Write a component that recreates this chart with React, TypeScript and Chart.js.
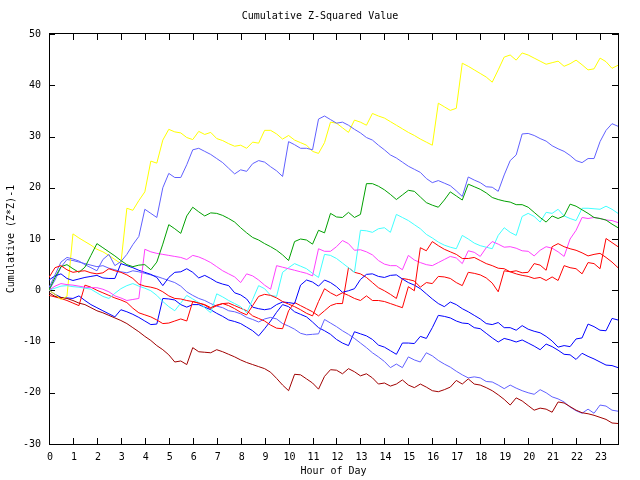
import { useEffect, useRef } from "react";
import { Chart, registerables } from "chart.js";

Chart.register(...registerables);

const TITLE = "Cumulative Z-Squared Value";
const X_TITLE = "Hour of Day";
const Y_TITLE = "Cumulative (Z*Z)-1";
const X_TICKS = [0, 1, 2, 3, 4, 5, 6, 7, 8, 9, 10, 11, 12, 13, 14, 15, 16, 17, 18, 19, 20, 21, 22, 23];
const Y_TICKS = [-30, -20, -10, 0, 10, 20, 30, 40, 50];
// 15-minute steps, 0:00 .. 23:45
const HOURS = Array.from({ length: 96 }, (_, i) => i / 4);

const yellow = [
  0, -0.8, -1.8, -1.2, 11.0, 10.2, 9.5, 8.8, 8.0, 7.5, 6.8, 6.0, 5.2, 16.0, 15.6, 17.5,
  19.2, 25.2, 24.8, 29.3, 31.4, 30.9, 30.7, 29.8, 29.4, 31.0, 30.4, 30.8, 29.6, 29.2, 28.6, 28.1,
  28.3, 27.7, 28.9, 28.7, 31.2, 31.2, 30.5, 29.5, 30.2, 29.3, 28.8, 28.3, 27.1, 26.7, 28.8, 32.8,
  32.6, 31.7, 30.8, 33.2, 32.8, 32.2, 34.5, 34.0, 33.6, 32.9, 32.2, 31.5, 30.8, 30.2, 29.5, 28.9,
  28.3, 36.5, 35.8, 35.1, 35.5, 44.3, 43.7, 43.0, 42.3, 41.6, 40.6, 43.0, 45.5, 45.9, 44.9, 46.3,
  45.9, 45.3, 44.7, 44.1, 44.4, 44.7, 43.7, 44.2, 44.9, 44.0, 43.0, 43.2, 45.3, 44.6, 43.3, 43.9,
];
const lightBlueA = [
  0.5, 3.0, 5.5, 6.4, 6.1, 5.7, 5.0, 4.4, 3.8, 6.0, 7.0, 4.8, 5.6, 7.0, 8.9, 10.5,
  15.8, 15.0, 14.2, 20.0, 22.8, 22.0, 22.0, 24.5, 27.4, 27.7, 27.1, 26.5, 25.7, 24.9, 23.8, 22.7,
  23.5, 23.2, 24.7, 25.3, 25.0, 24.1, 23.3, 22.2, 29.0, 28.4, 27.7, 27.7, 27.4, 33.4, 34.0, 33.3,
  32.6, 32.8, 32.2, 31.4, 30.7, 29.8, 29.3, 28.3, 27.4, 26.4, 25.8, 25.0, 24.2, 23.6, 23.0, 21.8,
  21.0, 21.4, 20.9, 20.4, 19.4, 18.3, 22.1, 21.5, 21.0, 20.2, 20.1, 19.3, 22.5, 25.3, 26.4, 30.5,
  30.6, 30.2, 29.6, 29.1, 28.2, 27.6, 27.1, 26.3, 25.3, 24.9, 25.7, 25.7, 29.0, 31.2, 32.5, 32.0,
];
const lightBlueB = [
  0, 2.0, 4.5, 6.0, 5.8, 5.5, 5.2, 4.9, 4.6, 4.8, 4.3, 4.0, 3.6, 3.4, 3.8, 3.6,
  3.3, 3.0, 2.7, 2.3, 1.9, 1.5, 0.8, -0.3, -1.0, -1.6, -2.0, -2.6, -3.1, -3.4, -4.0, -4.2,
  -4.6, -5.3, -5.7, -6.2, -5.6, -5.3, -5.6, -6.5, -7.0, -7.6, -8.4, -8.7, -8.6, -8.5, -5.7, -6.4,
  -7.1, -7.9, -8.6, -9.4, -10.3, -11.2, -12.2, -13.0, -13.9, -15.1, -14.4, -15.1, -13.0, -13.6, -14.0, -12.2,
  -12.8, -13.7, -14.4, -15.0, -15.8, -16.5, -17.1, -16.9, -17.1, -17.8, -17.9, -18.5, -19.2, -18.5, -19.1, -19.6,
  -20.0, -20.3, -19.4, -20.0, -20.8, -21.2, -21.8, -22.8, -23.5, -24.0, -23.2, -24.0, -22.4, -22.6, -23.4, -23.6,
];
const green = [
  0, 2.5, 4.6, 5.0, 4.2, 3.5, 4.5, 6.8, 9.1, 8.3, 7.5, 6.7, 5.8, 5.0, 4.6, 4.9,
  5.0, 4.0, 5.5, 9.0, 12.8, 12.0, 11.1, 14.5, 16.2, 15.3, 14.5, 15.1, 15.0, 14.6, 14.0, 13.3,
  12.2, 11.2, 10.3, 9.8, 9.1, 8.5, 7.8, 6.9, 5.8, 9.5, 10.0, 9.8, 9.0, 11.7, 11.2, 15.0,
  14.3, 14.2, 15.2, 14.2, 14.8, 20.8, 20.8, 20.3, 19.6, 18.7, 17.7, 18.6, 19.5, 19.3, 18.2, 17.1,
  16.6, 16.2, 17.6, 19.2, 18.4, 17.6, 20.7, 20.2, 19.7, 19.0, 18.1, 17.7, 17.4, 17.2, 16.7, 16.7,
  16.2, 15.2, 14.2, 13.3, 14.5, 14.0, 14.5, 16.8, 16.4, 15.7, 15.0, 14.2, 14.0, 13.7, 12.9, 12.2,
];
const cyan = [
  0, 0.4, 0.8, 0.9, 0.7, 0.6, 0.4, 0.2, -0.5, -1.2, -1.6, -0.6, 0.3, 0.9, 1.3, 0.8,
  0.4, -0.1, -1.0, -2.2, -3.2, -4.0, -2.5, -1.0, -1.7, -2.4, -3.4, -4.4, -0.7, -1.3, -2.0, -2.6,
  -3.2, -4.4, -1.8, 0.9, 0.3, -1.0, -1.2, 3.5, 4.4, 5.2, 4.7, 4.2, 3.3, 2.5, 7.0, 6.8,
  6.2, 5.3, 4.4, 3.5, 11.7, 11.6, 11.3, 12.0, 12.2, 11.3, 14.8, 14.2, 13.6, 12.8, 12.0, 10.9,
  10.2, 9.4, 8.8, 8.4, 8.1, 10.7, 10.0, 9.2, 8.7, 8.4, 8.1, 10.7, 12.2, 11.3, 10.7, 14.4,
  15.0, 14.4, 13.3, 15.2, 15.0, 15.8, 14.5, 14.0, 13.6, 16.0, 16.0, 15.9, 15.8, 16.4, 15.8, 15.0,
];
const magenta = [
  0, 0.8, 1.3, 1.1, 1.0, 0.8, 0.6, 0.5, 0.5, 0.2, -0.3, -1.1, -1.5, -2.0, -1.8, -1.6,
  8.0, 7.5, 7.2, 7.0, 6.8, 6.6, 6.4, 6.0, 6.8, 6.5, 6.0, 5.4, 4.6, 3.8, 3.2, 2.6,
  1.5, 3.2, 2.8, 2.0, 1.0, 0.2, 4.8, 4.5, 4.2, 3.9, 3.6, 3.3, 2.8, 8.1, 7.6, 7.6,
  8.5, 9.7, 9.1, 7.8, 7.9, 7.5, 6.9, 5.8, 5.1, 4.8, 4.8, 4.0, 6.8, 5.9, 5.4, 5.0,
  4.8, 5.4, 6.0, 6.6, 6.3, 5.2, 7.7, 7.4, 6.6, 8.3, 9.5, 9.0, 8.4, 8.5, 8.2, 7.7,
  7.6, 6.7, 7.8, 8.5, 8.2, 7.5, 6.6, 10.0, 11.7, 14.2, 14.0, 14.2, 14.0, 13.7, 13.6, 13.2,
];
const blueA = [
  2.0, 2.8, 3.2, 2.3, 1.9, 2.2, 2.5, 2.7, 2.9, 2.4, 2.3, 2.3, 5.2, 4.8, 4.4, 3.9,
  3.5, 3.1, 2.5, 0.9, 2.5, 3.5, 3.6, 4.2, 3.5, 2.4, 2.9, 2.3, 1.6, 1.2, 0.9, -0.5,
  -0.9, -1.7, -3.3, -3.6, -3.8, -3.6, -2.8, -2.3, -2.4, -2.6, 1.0, 2.0, 1.6, 0.8, 2.0, 1.5,
  0.7, -0.4, -0.1, 0.3, 2.1, 3.1, 3.2, 2.7, 2.5, 2.9, 3.0, 2.2, 1.5, 1.0, 0.3, -0.7,
  -1.7, -2.6, -3.2, -2.3, -2.8, -3.6, -4.2, -4.9, -5.6, -6.5, -6.7, -6.3, -7.3, -7.3, -7.8, -6.9,
  -7.6, -8.0, -8.3, -9.0, -9.9, -11.1, -10.8, -11.0, -9.5, -9.3, -6.6, -7.1, -7.8, -7.9, -5.5, -5.8,
];
const blueB = [
  0.0, -0.8, -1.4, -1.5, -1.6, -1.1, -2.0, -2.8, -3.4, -4.0, -4.6, -5.2, -3.8, -4.2, -4.7, -5.3,
  -6.0, -6.7, -6.6, -1.6, -1.7, -1.9, -2.8, -3.3, -2.8, -2.8, -3.3, -3.8, -4.5, -5.1, -5.8, -6.1,
  -6.5, -7.2, -7.9, -8.9, -7.5, -6.0, -4.3, -2.8, -3.2, -4.2, -4.7, -5.2, -6.2, -7.3, -7.9, -8.6,
  -9.6, -10.3, -10.8, -8.1, -8.5, -8.9, -9.6, -10.7, -11.1, -11.8, -12.5, -10.3, -10.3, -10.4, -9.0, -9.4,
  -7.3, -4.9, -5.1, -5.4, -6.0, -6.4, -6.5, -7.3, -7.5, -8.4, -9.3, -10.1, -9.4, -9.7, -10.1, -9.7,
  -10.3, -10.9, -11.6, -10.5, -11.0, -11.7, -12.5, -12.6, -13.5, -12.3, -12.9, -13.4, -14.0, -14.6, -14.7, -15.1,
];
const darkRed = [
  -0.5, -1.2, -1.4, -1.6, -2.0, -2.5, -2.8, -3.4, -4.0, -4.4, -4.9, -5.4, -5.9, -6.5, -7.3, -8.1,
  -9.0, -9.8, -10.8, -11.6, -12.6, -14.0, -13.8, -14.5, -11.2, -12.0, -12.1, -12.2, -11.6, -12.0, -12.5, -13.0,
  -13.6, -14.1, -14.5, -14.9, -15.3, -16.0, -17.2, -18.5, -19.6, -16.4, -16.5, -17.3, -18.1, -19.3, -16.8, -15.5,
  -15.6, -16.3, -15.3, -15.9, -16.7, -16.3, -17.1, -18.3, -18.1, -18.7, -18.3, -17.5, -18.5, -19.0, -18.3, -18.9,
  -19.6, -19.8, -19.4, -18.9, -17.6, -18.3, -17.3, -18.3, -18.5, -19.0, -19.6, -20.4, -21.3, -22.4, -21.0, -21.6,
  -22.5, -23.4, -23.0, -23.2, -23.8, -21.8, -22.0, -22.7, -23.4, -23.9, -24.1, -24.4, -24.8, -25.2, -25.9, -26.0,
];
const redA = [
  2.5, 4.4, 4.8, 4.0, 3.5, 3.7, 3.8, 3.4, 3.2, 3.4, 4.2, 3.8, 3.5, 3.0, 2.3, 1.2,
  0.8, 0.6, 0.3, -0.3, -1.1, -1.6, -1.7, -2.0, -2.2, -2.5, -2.8, -3.4, -2.9, -2.6, -3.0, -3.6,
  -4.3, -4.8, -3.0, -1.2, -0.8, -1.0, -1.5, -2.2, -2.7, -3.2, -3.8, -4.5, -5.0, -2.2, 0.3, -0.5,
  -1.1, -0.5, -1.0, -1.6, -2.0, -1.1, -2.0, -2.0, -2.2, -2.6, -3.0, -3.4, 0.7, -0.1, 8.3, 7.7,
  9.5, 8.7, 8.0, 7.5, 7.0, 6.2, 6.2, 6.4, 5.8, 5.2, 4.8, 4.3, 4.2, 3.6, 3.8, 3.4,
  3.5, 5.2, 4.9, 3.9, 8.5, 9.1, 8.5, 8.1, 7.8, 7.3, 6.7, 7.0, 7.2, 6.4, 5.5, 4.4,
];
const redB = [
  -1.0, -1.3, -1.6, -2.0, -2.5, -3.0, 1.0, 0.6, 0.0, -0.5, -1.0, -1.5, -1.9, -2.4, -3.5, -4.4,
  -4.8, -5.2, -5.8, -6.5, -6.4, -6.0, -5.6, -6.0, -2.2, -2.5, -2.9, -3.6, -3.0, -2.6, -2.5, -3.0,
  -3.5, -4.0, -5.0, -5.5, -6.0, -6.8, -7.4, -7.5, -4.0, -2.4, -3.0, -3.6, -4.2, -5.0, -4.0, -3.0,
  -2.6, -2.6, 4.4, 3.5, 3.2, 2.5, 1.5, 0.5, -0.1, -0.8, -1.6, 2.3, 2.1, 1.8, 0.6, 1.5,
  1.3, 2.7, 2.6, 2.3, 1.5, 0.9, 3.5, 3.3, 3.0, 2.4, 1.4, -0.3, 3.8, 3.6, 3.2, 2.9,
  2.7, 2.3, 2.5, 1.9, 2.6, 1.9, 4.8, 4.4, 4.2, 3.2, 5.4, 5.2, 4.2, 10.1, 9.3, 8.5,
];

const SERIES: { name: string; color: string; values: number[] }[] = [
  { name: "s1", color: "#ff0000", values: redA },
  { name: "s2", color: "#00a000", values: green },
  { name: "s3", color: "#6060ff", values: lightBlueA },
  { name: "s4", color: "#ff40ff", values: magenta },
  { name: "s5", color: "#40ffff", values: cyan },
  { name: "s6", color: "#0000ff", values: blueA },
  { name: "s7", color: "#ffff00", values: yellow },
  { name: "s8", color: "#a00000", values: darkRed },
  { name: "s9", color: "#ff0000", values: redB },
  { name: "s10", color: "#6060ff", values: lightBlueB },
  { name: "s11", color: "#0000ff", values: blueB },
];

const FONT = "10px 'DejaVu Sans Mono', monospace";

const framePlugin = {
  id: "gnuFrame",
  beforeDatasetsDraw(chart: any) {
    const { ctx, chartArea } = chart;
    const { left, right, top, bottom } = chartArea;
    ctx.save();
    ctx.strokeStyle = "#000";
    ctx.lineWidth = 1;
    ctx.strokeRect(left + 0.5, top - 0.5, right - left, bottom - top + 1);
    const xs = chart.scales.x;
    const ys = chart.scales.y;
    ctx.beginPath();
    for (const v of X_TICKS) {
      const px = Math.round(xs.getPixelForValue(v)) + 0.5;
      ctx.moveTo(px, bottom);
      ctx.lineTo(px, bottom - 6);
      ctx.moveTo(px, top);
      ctx.lineTo(px, top + 6);
    }
    for (const v of Y_TICKS) {
      const py = Math.round(ys.getPixelForValue(v)) + 0.5;
      ctx.moveTo(left, py);
      ctx.lineTo(left + 6, py);
      ctx.moveTo(right, py);
      ctx.lineTo(right - 6, py);
    }
    ctx.stroke();

    ctx.fillStyle = "#000";
    ctx.font = FONT;
    ctx.textBaseline = "middle";
    ctx.textAlign = "center";
    for (const v of X_TICKS) {
      ctx.fillText(String(v), xs.getPixelForValue(v) + 1, bottom + 13);
    }
    ctx.textAlign = "right";
    for (const v of Y_TICKS) {
      ctx.fillText(String(v), left - 8, ys.getPixelForValue(v));
    }
    ctx.textAlign = "center";
    ctx.fillText(TITLE, 320, 16);
    ctx.fillText(X_TITLE, (left + right) / 2, bottom + 27);
    ctx.translate(11, (top + bottom) / 2);
    ctx.rotate(-Math.PI / 2);
    ctx.fillText(Y_TITLE, 0, 0);
    ctx.restore();
  },
};

export default function App() {
  const ref = useRef<HTMLCanvasElement>(null);
  useEffect(() => {
    if (!ref.current) return;
    const chart = new Chart(ref.current, {
      type: "line",
      data: {
        datasets: SERIES.map((s) => ({
          label: s.name,
          data: HOURS.map((h, i) => ({ x: h, y: s.values[i] })),
          borderColor: s.color,
          backgroundColor: s.color,
          borderWidth: 1,
          pointRadius: 0,
          tension: 0,
          fill: false,
        })),
      },
      options: {
        responsive: false,
        animation: false,
        devicePixelRatio: 1,
        events: [],
        layout: { padding: { left: 49, right: 22, top: 34, bottom: 36 } },
        scales: {
          x: { type: "linear", min: 0, max: 23.75, display: false },
          y: { type: "linear", min: -30, max: 50, display: false },
        },
        plugins: {
          legend: { display: false },
          tooltip: { enabled: false },
          title: { display: false },
        },
      },
      plugins: [framePlugin],
    });
    return () => chart.destroy();
  }, []);
  return (
    <div style={{ position: "absolute", left: 0, top: 0, width: 640, height: 480, background: "#fff" }}>
      <canvas ref={ref} width={640} height={480} style={{ width: 640, height: 480, display: "block" }} />
    </div>
  );
}
